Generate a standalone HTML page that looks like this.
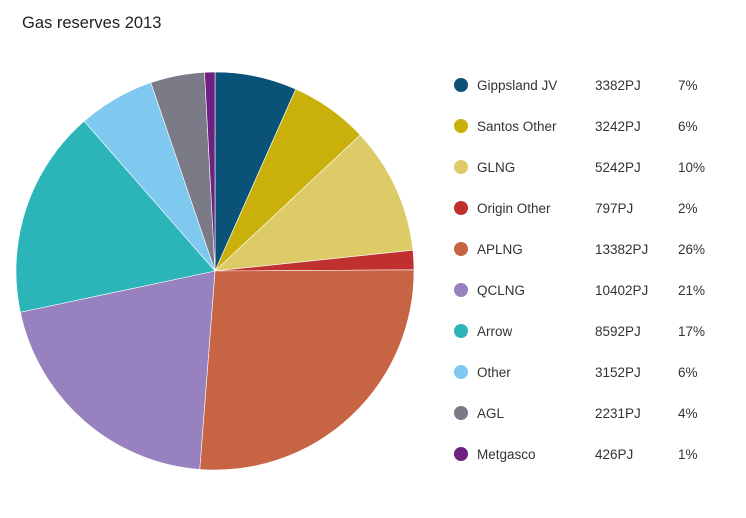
<!DOCTYPE html>
<html><head><meta charset="utf-8"><style>
body{margin:0;background:#fff;font-family:"Liberation Sans",sans-serif;}
</style></head><body>
<svg width="746" height="513">
<text x="22" y="28" font-size="16.5" fill="#222">Gas reserves 2013</text>
<g id="pie"></g>
<g id="legend"></g>
</svg>
<script>
const categories=["Gippsland JV","Santos Other","GLNG","Origin Other","APLNG","QCLNG","Arrow","Other","AGL","Metgasco"];
const values=[3382,3242,5242,797,13382,10402,8592,3152,2231,426];
const valueLabels=["3382PJ","3242PJ","5242PJ","797PJ","13382PJ","10402PJ","8592PJ","3152PJ","2231PJ","426PJ"];
const pctLabels=["7%","6%","10%","2%","26%","21%","17%","6%","4%","1%"];
const colors=["#0b5279","#c9b00a","#dccb67","#c0302e","#c66443","#9782bf","#2bb5b8","#7fc8ef","#7a7b86","#6d2180"];
const NS="http://www.w3.org/2000/svg";
const cx=215,cy=271,r=199;
const total=values.reduce((a,b)=>a+b,0);
const pie=document.getElementById('pie');
let a0=0;
function pt(a){return [cx+r*Math.sin(a),cy-r*Math.cos(a)];}
values.forEach((v,i)=>{
  const a1=a0+v/total*2*Math.PI;
  const p0=pt(a0),p1=pt(a1);
  const large=(a1-a0)>Math.PI?1:0;
  const path=document.createElementNS(NS,'path');
  path.setAttribute('d',`M${cx},${cy}L${p0[0]},${p0[1]}A${r},${r} 0 ${large} 1 ${p1[0]},${p1[1]}Z`);
  path.setAttribute('fill',colors[i]);
  path.setAttribute('stroke','#fff');
  path.setAttribute('stroke-width','0.6');
  
  
  pie.appendChild(path);
  a0=a1;
});
const lg=document.getElementById('legend');
categories.forEach((c,i)=>{
  const y=85+i*41;
  const g=document.createElementNS(NS,'g');
  
  
  const dot=document.createElementNS(NS,'circle');
  dot.setAttribute('cx',461);dot.setAttribute('cy',y);dot.setAttribute('r',7);dot.setAttribute('fill',colors[i]);
  
  
  g.appendChild(dot);
  [[c,477],[valueLabels[i],595],[pctLabels[i],678]].forEach(([t,x])=>{
    const tx=document.createElementNS(NS,'text');
    tx.setAttribute('x',x);tx.setAttribute('y',y+5);tx.setAttribute('font-size','13.5');tx.setAttribute('fill','#333');
    tx.textContent=t;
    
    
    g.appendChild(tx);
  });
  lg.appendChild(g);
});
</script>
</body></html>
